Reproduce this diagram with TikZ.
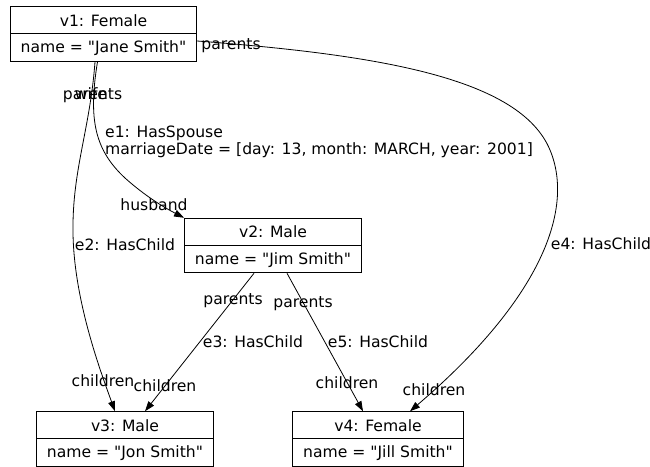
\documentclass[tikz,border=0pt]{standalone}
\usepackage{fontspec}
\newfontfamily\dejavu{DejaVu Sans}
\usetikzlibrary{shapes.multipart, arrows.meta}
\newcommand{\labelfont}{\dejavu\fontsize{15.6}{17}\selectfont}
\newcommand{\rowstrut}{\rule[-2pt]{0pt}{16pt}}

\begin{document}
\begin{tikzpicture}[
    x=1pt, y=-1pt,
    objbox/.style={
        rectangle split,
        rectangle split parts=2,
        draw,
        line width=0.8pt,
        inner xsep=10.5pt,
        inner ysep=5pt,
        font=\labelfont
    },
    link/.style={line width=0.8pt, -{Triangle[length=10pt,width=7pt]}},
    lbl/.style={inner sep=0pt, text height=13.5pt, text depth=1.5pt, font=\labelfont}
]
    \useasboundingbox (0,0) rectangle (650,466);

    % Objects
    \node[objbox] (v1) at (103.5,34) {\rowstrut v1: Female\nodepart{two}\rowstrut name = "Jane Smith"};
    \node[objbox] (v2) at (273,245.5) {\rowstrut v2: Male\nodepart{two}\rowstrut name = "Jim Smith"};
    \node[objbox] (v3) at (125,439) {\rowstrut v3: Male\nodepart{two}\rowstrut name = "Jon Smith"};
    \node[objbox] (v4) at (378,439) {\rowstrut v4: Female\nodepart{two}\rowstrut name = "Jill Smith"};

    % Links
    \draw[link] ([xshift=-6pt]v1.south) .. controls (88,120) and (95,150) .. (125,178)
        .. controls (145,196) and (165,208) .. (v2.north west);
    \draw[link] ([xshift=-8.5pt]v1.south) .. controls (90,130) and (72,170) .. (73,233)
        .. controls (74,300) and (100,370) .. ([xshift=-10pt]v3.north);
    \draw[link] ([xshift=-19pt]v2.south) -- ([xshift=20pt]v3.north);
    \draw[link] ([xshift=14pt]v2.south) -- ([xshift=-15pt]v4.north);
    \draw[link] ([yshift=-7pt]v1.east) .. controls (380,55) and (520,78) .. (550,150)
        .. controls (575,210) and (540,300) .. ([xshift=32pt]v4.north);

    % e1
    \node[lbl] (e1wife) at (91,93) {wife};
    \node[lbl] (e1husband) at (154,204) {husband};
    \node[lbl, anchor=west, align=left, text height=, text depth=] (e1) at (105,141.5) {e1: HasSpouse\\marriageDate = [day: 13, month: MARCH, year: 2001]};

    % e2
    \node[lbl] (e2parents) at (92.5,93) {parents};
    \node[lbl] (e2) at (125,244) {e2: HasChild};
    \node[lbl] (e2children) at (103,380) {children};

    % e3
    \node[lbl] (e3parents) at (233,298) {parents};
    \node[lbl] (e3) at (253,341) {e3: HasChild};
    \node[lbl] (e3children) at (165,385) {children};

    % e5
    \node[lbl] (e5parents) at (303,301) {parents};
    \node[lbl] (e5) at (378,341) {e5: HasChild};
    \node[lbl] (e5children) at (347,382) {children};

    % e4
    \node[lbl] (e4parents) at (231,43) {parents};
    \node[lbl] (e4) at (601,243) {e4: HasChild};
    \node[lbl] (e4children) at (434,389) {children};

\end{tikzpicture}
\end{document}
